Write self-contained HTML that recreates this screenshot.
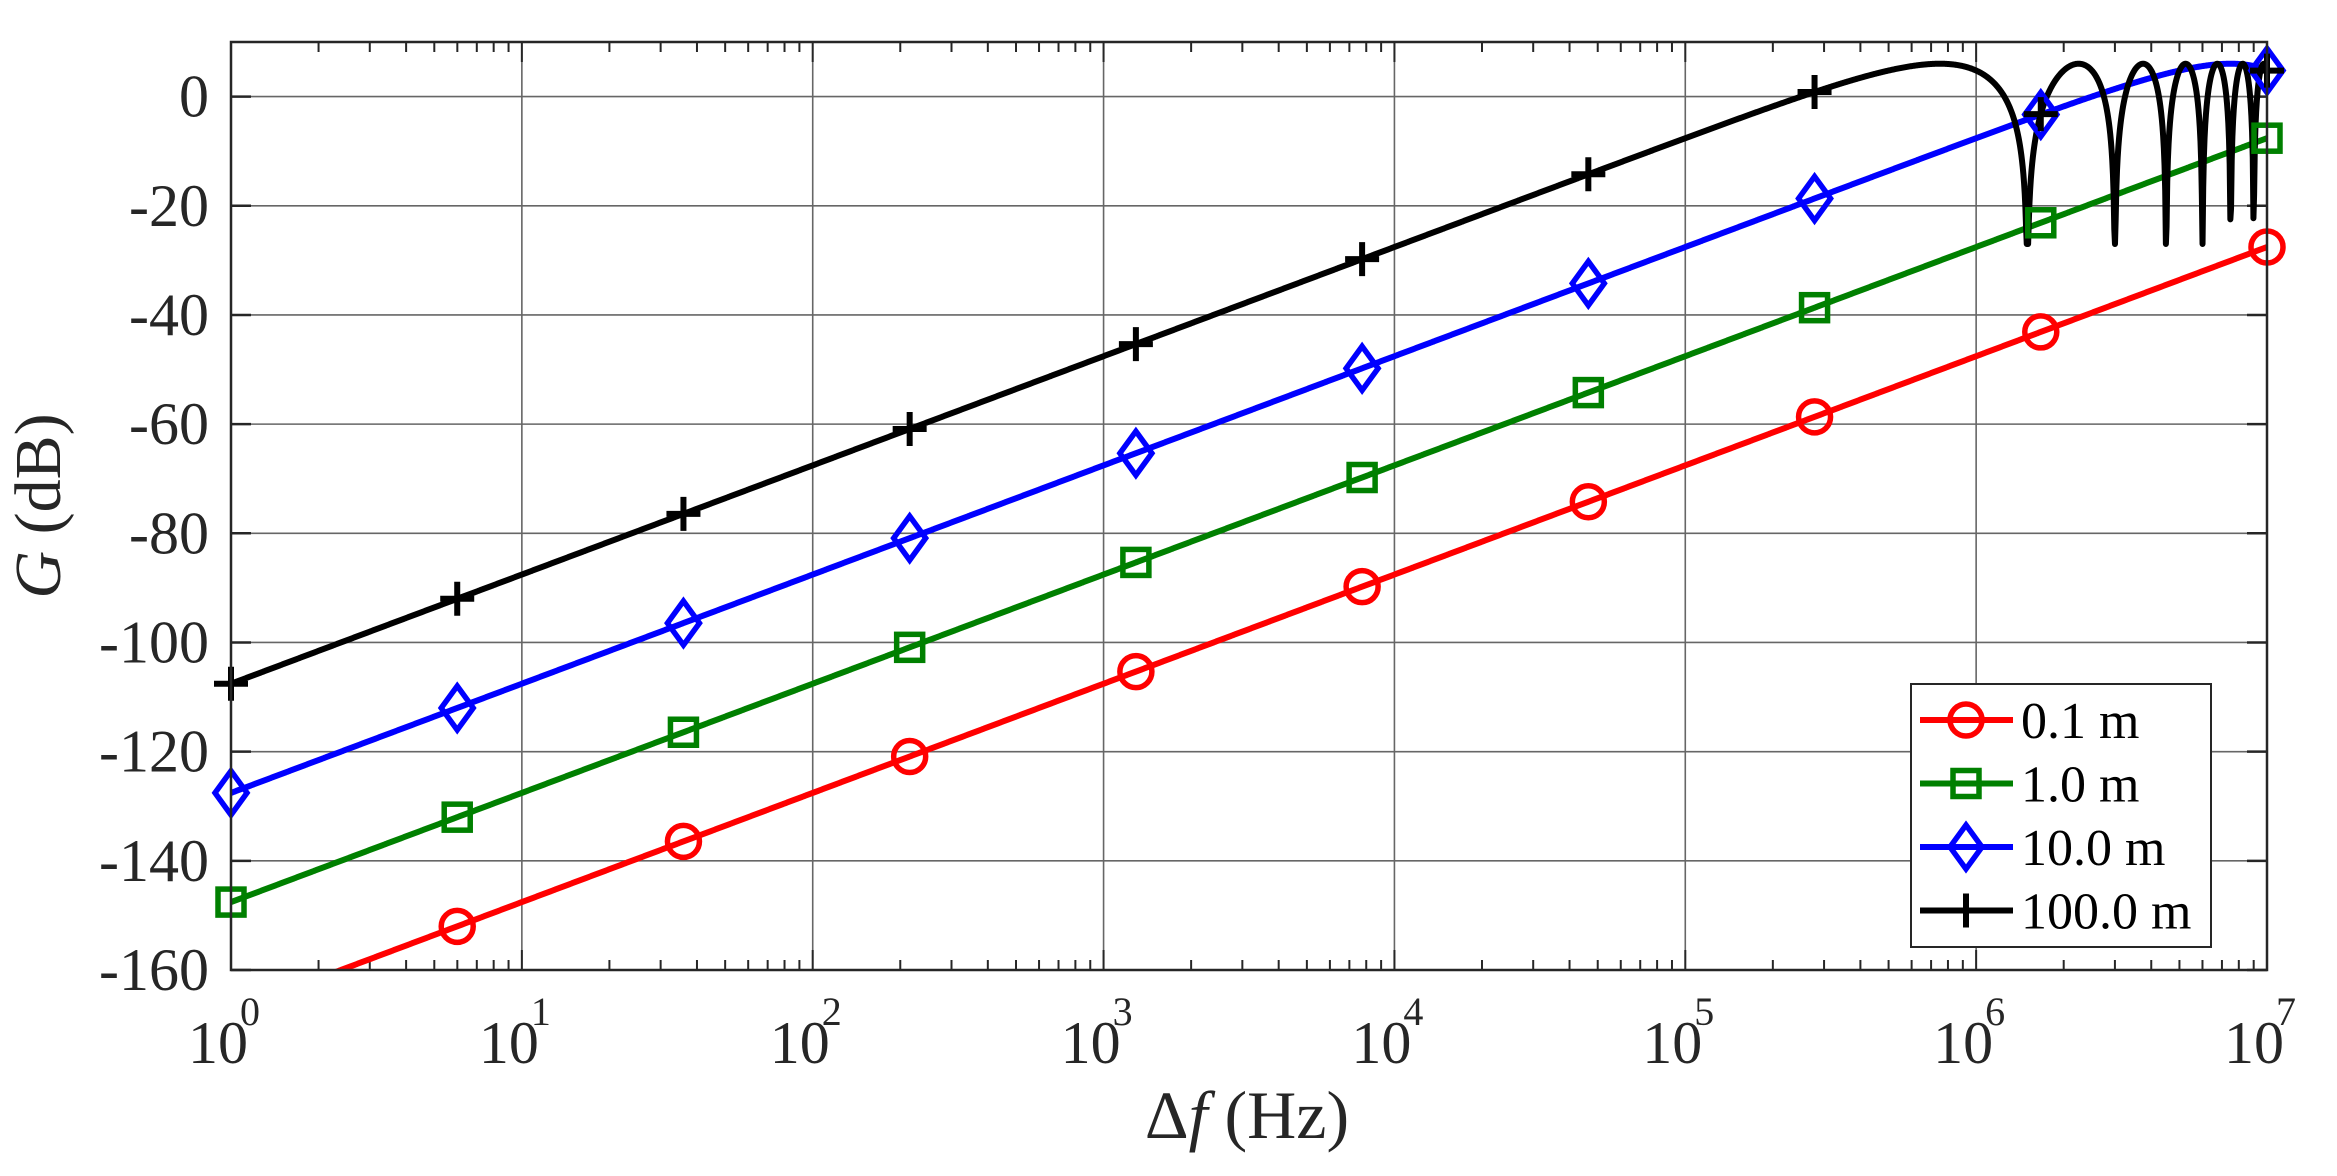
<!DOCTYPE html>
<html><head><meta charset="utf-8"><style>
html,body{margin:0;padding:0;background:#fff}
svg{display:block;font-family:"Liberation Serif",serif}
</style></head><body>
<svg id="s" xmlns="http://www.w3.org/2000/svg" width="2337" height="1176" viewBox="0 0 2337 1176"></svg>
<script>
const s=document.getElementById('s');
const L=231,R=2267,T=42,B=970,ymax=10,ymin=-160;
const X=f=>L+(Math.log10(f))*(R-L)/7;
const Y=g=>T+(ymax-g)*(B-T)/(ymax-ymin);
let h='';
for(let d=0;d<=7;d++){h+=`<line x1="${X(10**d)}" y1="${T}" x2="${X(10**d)}" y2="${B}" stroke="#666" stroke-width="1.6"/>`;}
for(let g=0;g>=-160;g-=20){h+=`<line x1="${L}" y1="${Y(g)}" x2="${R}" y2="${Y(g)}" stroke="#666" stroke-width="1.6"/>`;}
for(let d=0;d<7;d++)for(let k=2;k<=9;k++){const x=X(k*10**d);
h+=`<line x1="${x}" y1="${B}" x2="${x}" y2="${B-10}" stroke="#262626" stroke-width="2"/><line x1="${x}" y1="${T}" x2="${x}" y2="${T+10}" stroke="#262626" stroke-width="2"/>`;}
for(let d=0;d<=7;d++){const x=X(10**d);h+=`<line x1="${x}" y1="${B}" x2="${x}" y2="${B-20}" stroke="#262626" stroke-width="2"/><line x1="${x}" y1="${T}" x2="${x}" y2="${T+20}" stroke="#262626" stroke-width="2"/>`;}
for(let g=0;g>=-160;g-=20){const y=Y(g);h+=`<line x1="${L}" y1="${y}" x2="${L+20}" y2="${y}" stroke="#262626" stroke-width="2.5"/><line x1="${R}" y1="${y}" x2="${R-20}" y2="${y}" stroke="#262626" stroke-width="2.5"/>
<text x="209" y="${y+20}" font-size="60" text-anchor="end" fill="#262626">${g}</text>`;}
for(let d=0;d<=7;d++){const x=X(10**d);h+=`<text x="${x-13}" y="1063" font-size="60" text-anchor="middle" fill="#262626">10</text><text x="${x+19}" y="1025" font-size="40" text-anchor="middle" fill="#262626">${d}</text>`;}
h+=`<text x="1247" y="1138" font-size="68" text-anchor="middle" fill="#262626">Δ<tspan font-style="italic">f</tspan> (Hz)</text>`;
h+=`<text transform="translate(60,506) rotate(-90)" font-size="66" text-anchor="middle" fill="#262626"><tspan font-style="italic">G</tspan> (dB)</text>`;
const cols=['#ff0000','#008000','#0000ff','#000000'];
const taus=[6.667e-10,6.667e-9,6.667e-8,6.667e-7];
function G(i,f){const v=2*Math.abs(Math.sin(Math.PI*f*taus[i]));return 20*Math.log10(Math.max(v,1e-12));}
h+=`<defs><clipPath id="c"><rect x="${L}" y="${T}" width="${R-L}" height="${B-T}"/></clipPath></defs>`;
h+='<g clip-path="url(#c)">';
const N=3000;
for(let i=0;i<4;i++){let p='';for(let n=0;n<=N;n++){const lf=7*n/N,f=10**lf;let g=G(i,f);if(i==3&&f>1e6&&g<-27)g=-27;p+=(n?'L':'M')+X(f).toFixed(2)+' '+Y(g).toFixed(2);}
h+=`<path d="${p}" fill="none" stroke="${cols[i]}" stroke-width="6" stroke-linejoin="round"/>`;}
h+='</g>';
function mk(i,x,y){const c=cols[i];
if(i==0)return `<circle cx="${x}" cy="${y}" r="16" fill="none" stroke="${c}" stroke-width="5.5"/>`;
if(i==1)return `<rect x="${x-13}" y="${y-13}" width="26" height="26" fill="none" stroke="${c}" stroke-width="5.5"/>`;
if(i==2)return `<path d="M${x} ${y-22}L${x+16} ${y}L${x} ${y+22}L${x-16} ${y}Z" fill="none" stroke="${c}" stroke-width="5.5"/>`;
return `<path d="M${x-17} ${y}H${x+17}M${x} ${y-17}V${y+17}" stroke="${c}" stroke-width="6"/>`;}
for(let i=0;i<4;i++)for(let k=0;k<=9;k++){const f=10**(7*k/9);const g=G(i,f);if(g<-160)continue;h+=mk(i,X(f),Y(g));}
h+=`<rect x="1911" y="684" width="300" height="263" fill="#fff" stroke="#262626" stroke-width="2"/>`;
const lab=['0.1 m','1.0 m','10.0 m','100.0 m'];
for(let i=0;i<4;i++){const y=720+i*63.5;h+=`<line x1="1920" y1="${y}" x2="2013" y2="${y}" stroke="${cols[i]}" stroke-width="6"/>`+mk(i,1966,y)+`<text x="2021" y="${y+18}" font-size="52" fill="#000">${lab[i]}</text>`;}
h+=`<rect x="${L}" y="${T}" width="${R-L}" height="${B-T}" fill="none" stroke="#262626" stroke-width="2.5"/>`;
s.innerHTML=h;
</script>
</body></html>
